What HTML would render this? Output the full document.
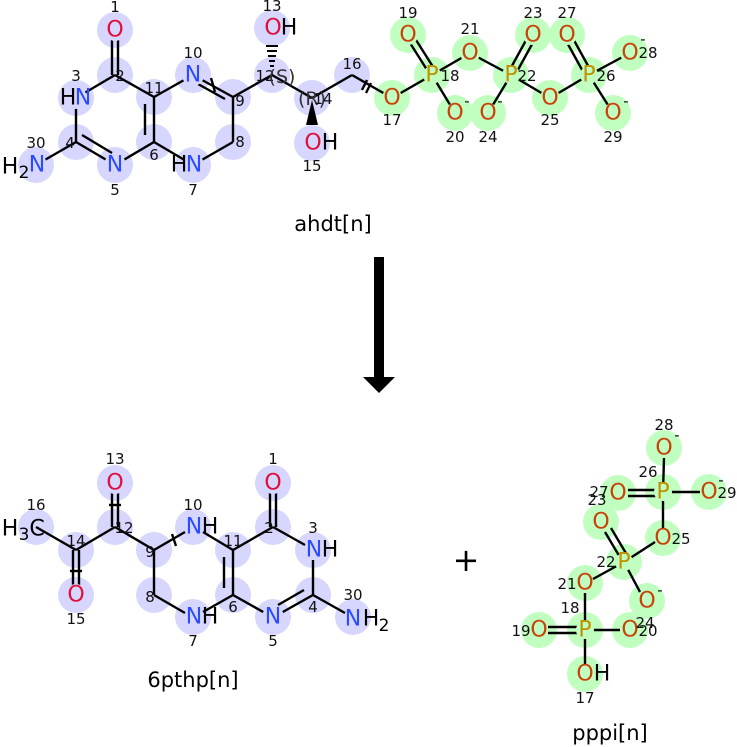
<!DOCTYPE html>
<html><head><meta charset="utf-8"><style>
html,body{margin:0;padding:0;background:#fff}
svg{display:block}
text{font-family:"DejaVu Sans","Liberation Sans",sans-serif;dominant-baseline:central;text-anchor:middle}
.n{font-size:15px;fill:#111}
.a{font-size:22px}
.s{font-size:17px}
.N{fill:#2a4bff}.O{fill:#e0103a}.Op{fill:#c8420a}.P{fill:#c09000}.H{fill:#000}
.b line,.b path{stroke:#000;stroke-width:2.4;fill:none}
</style></head><body>
<svg width="737" height="747" viewBox="0 0 737 747" xmlns="http://www.w3.org/2000/svg">
<g fill="#d6d6ff">
<circle cx="115" cy="30" r="18"/><circle cx="115" cy="75" r="18"/><circle cx="76" cy="98" r="18"/><circle cx="76" cy="142" r="18"/><circle cx="115" cy="165" r="18"/><circle cx="154" cy="142" r="18"/><circle cx="154" cy="97" r="18"/><circle cx="193" cy="75" r="18"/><circle cx="233" cy="97" r="18"/><circle cx="233" cy="142" r="18"/><circle cx="193" cy="165" r="18"/><circle cx="36" cy="165" r="18"/><circle cx="272" cy="75" r="18"/><circle cx="272" cy="28" r="18"/><circle cx="312" cy="98" r="18"/><circle cx="312" cy="143" r="18"/><circle cx="352" cy="75" r="18"/>
<circle cx="115" cy="483" r="18"/><circle cx="115" cy="527" r="18"/><circle cx="36" cy="527" r="18"/><circle cx="76" cy="550" r="18"/><circle cx="76" cy="595" r="18"/><circle cx="154" cy="550" r="18"/><circle cx="193" cy="527" r="18"/><circle cx="154" cy="595" r="18"/><circle cx="193" cy="617" r="18"/><circle cx="233" cy="550" r="18"/><circle cx="233" cy="595" r="18"/><circle cx="273" cy="527" r="18"/><circle cx="273" cy="483" r="18"/><circle cx="313" cy="550" r="18"/><circle cx="313" cy="595" r="18"/><circle cx="273" cy="617" r="18"/><circle cx="353" cy="617" r="18"/>
</g>
<g fill="#c0ffc0">
<circle cx="392" cy="98" r="18"/><circle cx="432" cy="75" r="18"/><circle cx="408" cy="35" r="18"/><circle cx="455" cy="113" r="18"/><circle cx="470" cy="53" r="18"/><circle cx="511" cy="75" r="18"/><circle cx="533" cy="35" r="18"/><circle cx="488" cy="113" r="18"/><circle cx="550" cy="98" r="18"/><circle cx="589" cy="75" r="18"/><circle cx="567" cy="35" r="18"/><circle cx="630" cy="53" r="18"/><circle cx="613" cy="113" r="18"/>
<circle cx="664" cy="448" r="18"/><circle cx="663" cy="492" r="18"/><circle cx="618" cy="493" r="18"/><circle cx="709" cy="492" r="18"/><circle cx="663" cy="538" r="18"/><circle cx="601" cy="522" r="18"/><circle cx="624" cy="562" r="18"/><circle cx="585" cy="583" r="18"/><circle cx="647" cy="601" r="18"/><circle cx="585" cy="630" r="18"/><circle cx="539" cy="630" r="18"/><circle cx="630" cy="630" r="18"/><circle cx="585" cy="674" r="18"/>
</g>
<g class="b">
<line x1="112" y1="40" x2="112" y2="75"/><line x1="118" y1="40" x2="118" y2="75"/>
<line x1="115" y1="75" x2="76" y2="98"/><line x1="76" y1="98" x2="76" y2="142"/>
<line x1="76" y1="142" x2="115" y2="165"/><line x1="82" y1="135" x2="112" y2="153"/>
<line x1="76" y1="142" x2="36" y2="165"/>
<line x1="115" y1="165" x2="154" y2="142"/><line x1="154" y1="142" x2="154" y2="97"/><line x1="145" y1="135" x2="145" y2="104"/>
<line x1="154" y1="97" x2="115" y2="75"/><line x1="154" y1="97" x2="193" y2="75"/>
<line x1="193" y1="75" x2="233" y2="97"/><line x1="198" y1="84" x2="225" y2="99"/><line x1="211" y1="78" x2="215" y2="92"/>
<line x1="233" y1="97" x2="233" y2="142"/><line x1="233" y1="142" x2="193" y2="165"/><line x1="193" y1="165" x2="154" y2="142"/>
<line x1="233" y1="97" x2="272" y2="75"/><line x1="272" y1="75" x2="312" y2="98"/>
<line x1="312" y1="98" x2="352" y2="75"/><line x1="352" y1="75" x2="392" y2="98"/>
<line x1="367" y1="80" x2="362" y2="90"/><line x1="371" y1="83" x2="366" y2="93"/>
<line x1="392" y1="98" x2="432" y2="75"/>
<line x1="429" y1="73" x2="405" y2="35"/><line x1="435" y1="70" x2="411" y2="32"/>
<line x1="432" y1="75" x2="455" y2="113"/><line x1="432" y1="75" x2="470" y2="53"/>
<line x1="470" y1="53" x2="511" y2="75"/>
<line x1="508" y1="73" x2="530" y2="33"/><line x1="514" y1="77" x2="536" y2="37"/>
<line x1="511" y1="75" x2="488" y2="113"/><line x1="511" y1="75" x2="550" y2="98"/><line x1="550" y1="98" x2="589" y2="75"/>
<line x1="586" y1="77" x2="564" y2="37"/><line x1="592" y1="73" x2="570" y2="33"/>
<line x1="589" y1="75" x2="630" y2="53"/><line x1="589" y1="75" x2="613" y2="113"/>
</g>
<g stroke="#000" stroke-width="2">
<line x1="270" y1="66" x2="274" y2="66"/><line x1="269" y1="61" x2="275" y2="61"/><line x1="268" y1="56" x2="276" y2="56"/><line x1="267" y1="51" x2="277" y2="51"/><line x1="266" y1="46" x2="278" y2="46"/>
</g>
<polygon points="312,100 306,125 318,125" fill="#000"/>
<g class="b">
<line x1="36" y1="527" x2="76" y2="550"/>
<line x1="73" y1="550" x2="73" y2="585"/><line x1="79" y1="550" x2="79" y2="585"/><line x1="70" y1="571" x2="82" y2="571"/>
<line x1="76" y1="550" x2="115" y2="527"/>
<line x1="112" y1="493" x2="112" y2="527"/><line x1="118" y1="493" x2="118" y2="527"/><line x1="109" y1="505" x2="121" y2="505"/>
<line x1="115" y1="527" x2="154" y2="550"/><line x1="154" y1="550" x2="185" y2="532"/><line x1="172" y1="534" x2="176" y2="546"/>
<line x1="154" y1="550" x2="154" y2="595"/><line x1="154" y1="595" x2="185" y2="613"/>
<line x1="203" y1="612" x2="233" y2="595"/><line x1="203" y1="532" x2="233" y2="550"/>
<line x1="233" y1="550" x2="233" y2="595"/><line x1="224" y1="557" x2="224" y2="588"/>
<line x1="233" y1="550" x2="273" y2="527"/>
<line x1="270" y1="493" x2="270" y2="527"/><line x1="276" y1="493" x2="276" y2="527"/>
<line x1="273" y1="527" x2="305" y2="545"/><line x1="313" y1="560" x2="313" y2="595"/>
<line x1="313" y1="595" x2="281" y2="613"/><line x1="304" y1="590" x2="278" y2="605"/>
<line x1="233" y1="595" x2="265" y2="613"/><line x1="313" y1="595" x2="345" y2="613"/>
</g>
<g class="b">
<line x1="664" y1="458" x2="663" y2="492"/>
<line x1="628" y1="490" x2="663" y2="490"/><line x1="628" y1="496" x2="663" y2="496"/>
<line x1="663" y1="492" x2="700" y2="492"/><line x1="663" y1="492" x2="663" y2="528"/>
<line x1="655" y1="542" x2="624" y2="562"/>
<line x1="605" y1="532" x2="621" y2="559"/><line x1="611" y1="528" x2="627" y2="555"/>
<line x1="624" y1="562" x2="593" y2="579"/><line x1="624" y1="562" x2="640" y2="592"/>
<line x1="585" y1="593" x2="585" y2="630"/>
<line x1="548" y1="627" x2="585" y2="627"/><line x1="548" y1="633" x2="585" y2="633"/>
<line x1="585" y1="630" x2="620" y2="630"/><line x1="585" y1="630" x2="585" y2="664"/>
</g>
<g fill="#d6d6ff">
<circle cx="115" cy="30" r="11"/><circle cx="76" cy="98" r="11"/><circle cx="115" cy="165" r="11"/><circle cx="193" cy="75" r="11"/><circle cx="193" cy="165" r="11"/><circle cx="36" cy="165" r="11"/><circle cx="272" cy="28" r="11"/><circle cx="312" cy="143" r="11"/>
<circle cx="115" cy="483" r="11"/><circle cx="76" cy="595" r="11"/><circle cx="273" cy="483" r="11"/><circle cx="273" cy="617" r="11"/>
</g>
<g fill="#c0ffc0">
<circle cx="392" cy="98" r="10"/><circle cx="432" cy="75" r="9"/><circle cx="408" cy="35" r="10"/><circle cx="455" cy="113" r="10"/><circle cx="470" cy="53" r="10"/><circle cx="511" cy="75" r="9"/><circle cx="533" cy="35" r="10"/><circle cx="488" cy="113" r="10"/><circle cx="550" cy="98" r="10"/><circle cx="589" cy="75" r="9"/><circle cx="567" cy="35" r="10"/><circle cx="630" cy="53" r="10"/><circle cx="613" cy="113" r="10"/>
<circle cx="663" cy="492" r="9"/><circle cx="624" cy="562" r="9"/><circle cx="585" cy="630" r="9"/>
</g>
<text class="a O" x="115" y="30">O</text>
<text class="a H" x="68" y="98">H</text><text class="a N" x="83" y="98">N</text>
<text class="a" x="10" y="167">H</text><text class="s" x="24" y="173">2</text><text class="a N" x="37" y="165">N</text>
<text class="a N" x="115" y="165">N</text>
<text class="a N" x="193" y="75">N</text>
<text class="a" x="179" y="165">H</text><text class="a N" x="194" y="165">N</text>
<text class="a O" x="273" y="28">O</text><text class="a" x="289" y="28">H</text>
<text class="a O" x="313" y="143">O</text><text class="a" x="330" y="143">H</text>
<text class="a Op" x="392" y="98">O</text><text class="a P" x="432" y="75">P</text><text class="a Op" x="408" y="35">O</text>
<text class="a Op" x="455" y="113">O</text><text class="a Op" x="470" y="53">O</text><text class="a P" x="511" y="75">P</text>
<text class="a Op" x="533" y="35">O</text><text class="a Op" x="488" y="113">O</text><text class="a Op" x="550" y="98">O</text>
<text class="a P" x="589" y="75">P</text><text class="a Op" x="567" y="35">O</text><text class="a Op" x="630" y="53">O</text><text class="a Op" x="613" y="113">O</text>
<g class="n"><text x="467" y="101">-</text><text x="500" y="101">-</text><text x="643" y="39">-</text><text x="626" y="101">-</text></g>
<g class="n">
<text x="115" y="7">1</text><text x="120" y="76">2</text><text x="76" y="76">3</text><text x="70" y="143">4</text><text x="36" y="143">30</text><text x="115" y="190">5</text><text x="154" y="155">6</text><text x="154" y="88">11</text><text x="193" y="53">10</text><text x="240" y="101">9</text><text x="240" y="142">8</text><text x="193" y="190">7</text>
<text x="265" y="76">12</text><text x="282" y="77" style="font-size:19px;fill:#333">(S)</text><text x="272" y="6">13</text>
<text x="312" y="99" style="font-size:19px;fill:#333">(R)</text><text x="323" y="99">14</text><text x="312" y="166">15</text><text x="352" y="64">16</text>
<text x="392" y="120">17</text><text x="450" y="76">18</text><text x="408" y="13">19</text><text x="455" y="137">20</text><text x="470" y="29">21</text><text x="527" y="76">22</text><text x="533" y="13">23</text><text x="488" y="137">24</text><text x="550" y="120">25</text><text x="606" y="76">26</text><text x="567" y="13">27</text><text x="648" y="53">28</text><text x="613" y="137">29</text>
</g>
<text x="333" y="224" style="font-size:21px">ahdt[n]</text>
<rect x="374" y="257" width="10" height="122" fill="#000"/>
<polygon points="363,377 395,377 379,393" fill="#000"/>
<text class="a O" x="115" y="483">O</text><text class="a O" x="76" y="595">O</text>
<text class="a" x="10" y="529">H</text><text class="s" x="24" y="535">3</text><text class="a" x="37" y="529">C</text>
<text class="a N" x="194" y="527">N</text><text class="a" x="210" y="527">H</text>
<text class="a N" x="194" y="617">N</text><text class="a" x="210" y="617">H</text>
<text class="a O" x="273" y="483">O</text>
<text class="a N" x="273" y="617">N</text>
<text class="a N" x="314" y="550">N</text><text class="a" x="330" y="550">H</text>
<text class="a N" x="353" y="619">N</text><text class="a" x="371" y="619">H</text><text class="s" x="384" y="626">2</text>
<g class="n">
<text x="115" y="459">13</text><text x="124" y="528">12</text><text x="36" y="505">16</text><text x="76" y="541">14</text><text x="76" y="619">15</text><text x="150" y="552">9</text><text x="193" y="505">10</text><text x="150" y="597">8</text><text x="193" y="641">7</text><text x="233" y="541">11</text><text x="233" y="607">6</text><text x="269" y="528">2</text><text x="273" y="459">1</text><text x="313" y="528">3</text><text x="313" y="607">4</text><text x="273" y="641">5</text><text x="353" y="595">30</text>
</g>
<text x="193" y="680" style="font-size:21px">6pthp[n]</text>
<text x="466" y="560" style="font-size:32px">+</text>
<text class="a Op" x="664" y="448">O</text><text class="a P" x="663" y="492">P</text><text class="a Op" x="618" y="493">O</text><text class="a Op" x="709" y="492">O</text>
<text class="a Op" x="663" y="538">O</text><text class="a Op" x="601" y="522">O</text><text class="a P" x="624" y="562">P</text><text class="a Op" x="585" y="583">O</text>
<text class="a Op" x="647" y="601">O</text><text class="a P" x="585" y="630">P</text><text class="a Op" x="539" y="630">O</text><text class="a Op" x="630" y="630">O</text>
<text class="a Op" x="585" y="674">O</text><text class="a" x="602" y="674">H</text>
<g class="n">
<text x="677" y="435">-</text><text x="721" y="480">-</text><text x="660" y="590">-</text>
<text x="664" y="425">28</text><text x="648" y="472">26</text><text x="599" y="492">27</text><text x="597" y="500">23</text><text x="727" y="493">29</text><text x="681" y="539">25</text><text x="606" y="562">22</text><text x="567" y="584">21</text><text x="645" y="623">24</text><text x="648" y="631">20</text><text x="570" y="608">18</text><text x="521" y="631">19</text><text x="585" y="698">17</text>
</g>
<text x="610" y="733" style="font-size:21px">pppi[n]</text>
</svg>
</body></html>
